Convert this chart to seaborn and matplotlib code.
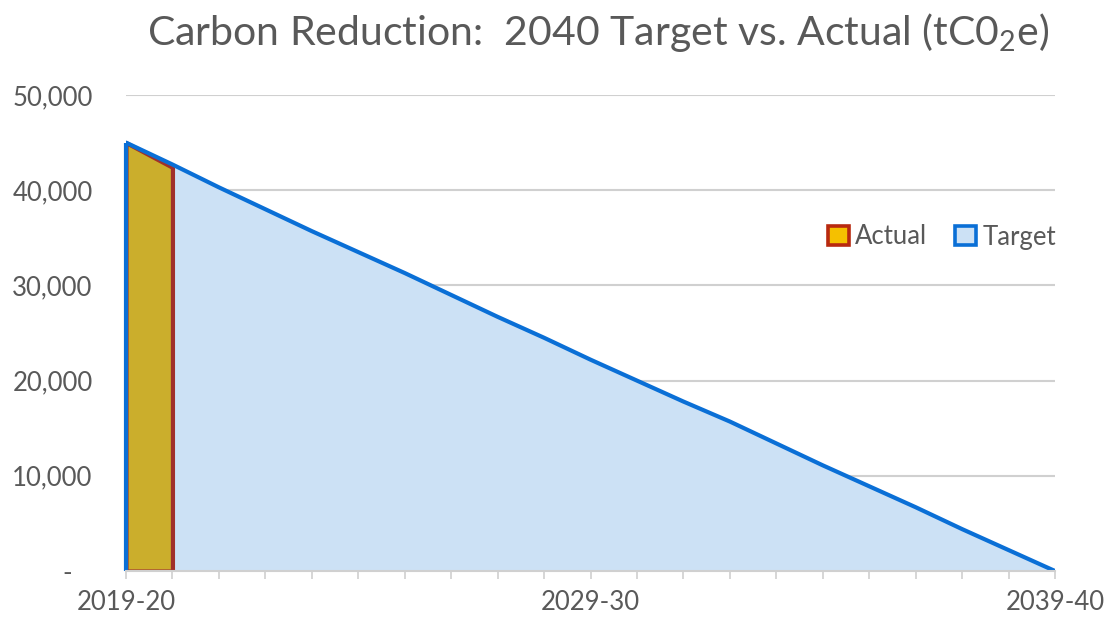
import matplotlib
matplotlib.use("Agg")
import matplotlib.pyplot as plt
from matplotlib.patches import Patch
from matplotlib.ticker import FixedLocator, FuncFormatter
import seaborn as sns
import pandas as pd

# ---- data ----
years = [f"{y}-{str(y + 1)[-2:]}" for y in range(2019, 2040)]
target = [45000, 42700, 40300, 38000, 35700, 33500, 31300, 29000, 26700, 24500,
          22200, 20000, 17800, 15700, 13400, 11100, 8900, 6700, 4400, 2200, 0]
actual = [45000, 42400]
shown_xlabels = ["2019-20", "2029-30", "2039-40"]
title = "Carbon Reduction:  2040 Target vs. Actual (tC0$_2$e)"

sns.set_theme(style="white")
plt.rcParams['font.family'] = ['Lato', 'DejaVu Sans']
plt.rcParams['mathtext.fontset'] = 'custom'
plt.rcParams['mathtext.rm'] = 'Lato'
plt.rcParams['mathtext.it'] = 'Lato'
plt.rcParams['mathtext.default'] = 'regular'

TXT = "#595959"
BLUE_LINE = "#0A6FD6"
BLUE_FILL = "#CCE1F5"
GOLD = "#CBAE2C"
RED = "#A0302A"
GRID = "#D0D0D0"

df_t = pd.DataFrame({"idx": list(range(len(years))), "year": years, "value": target})
df_a = pd.DataFrame({"idx": list(range(len(actual))), "year": years[:len(actual)], "value": actual})

fig = plt.figure(figsize=(11.11, 6.23), dpi=100)
ax = fig.add_axes([126 / 1111, 1 - 571 / 623, (1055 - 126) / 1111, (571 - 95) / 623])

# target area
ax.fill_between(df_t["idx"], 0, df_t["value"], color=BLUE_FILL, lw=0, zorder=2)
# actual area
ax.fill_between(df_a["idx"], 0, df_a["value"], facecolor=GOLD, edgecolor=RED, lw=3, zorder=3)
# target outline
sns.lineplot(data=df_t, x="idx", y="value", ax=ax, color=BLUE_LINE, lw=3, zorder=4)
ax.plot([0, 0], [0, target[0]], color=BLUE_LINE, lw=3, zorder=4, solid_capstyle="butt", clip_on=False)

ax.set_xlim(0, len(years) - 1)
ax.set_ylim(0, 50000)

# grid
ax.yaxis.set_major_locator(FixedLocator([0, 10000, 20000, 30000, 40000, 50000]))
ax.yaxis.set_major_formatter(FuncFormatter(lambda v, p: "-   " if v == 0 else f"{int(v):,}"))
ax.grid(axis="y", color=GRID, lw=1.5, zorder=1)
ax.grid(axis="x", visible=False)
ax.set_axisbelow(True)

major_idx = [years.index(s) for s in shown_xlabels]
ax.set_xticks(major_idx)
ax.set_xticklabels(shown_xlabels)
ax.set_xticks(list(range(len(years))), minor=True)
ax.tick_params(axis="x", which="both", direction="out", length=6, width=1.2,
               color=GRID, bottom=True)
ax.tick_params(axis="x", which="major", labelsize=18.5, labelcolor=TXT, pad=8)
ax.tick_params(axis="y", length=0, labelsize=18.5, labelcolor=TXT, pad=24)

for s in ["top", "right", "left"]:
    ax.spines[s].set_visible(False)
ax.spines["bottom"].set_color(GRID)
ax.spines["bottom"].set_linewidth(1.5)
ax.spines["bottom"].set_zorder(5)

ax.set_xlabel("")
ax.set_ylabel("")

handles = [Patch(facecolor="#F5C000", edgecolor="#B8290F", lw=2.6, label="Actual"),
           Patch(facecolor=BLUE_FILL, edgecolor=BLUE_LINE, lw=2.6, label="Target")]
leg = ax.legend(handles=handles, loc="center left", bbox_to_anchor=(702 / 929, (571 - 237) / 476),
                ncol=2, frameon=False, fontsize=18.5, handlelength=0.8, handleheight=0.8,
                handletextpad=0.25, columnspacing=1.1, borderaxespad=0, borderpad=0)
for t in leg.get_texts():
    t.set_color(TXT)

fig.text(598 / 1111, 1 - 33 / 623, title, ha="center", va="center", fontsize=29.5, color=TXT)

fig.savefig("out.png", dpi=100, facecolor="white")
